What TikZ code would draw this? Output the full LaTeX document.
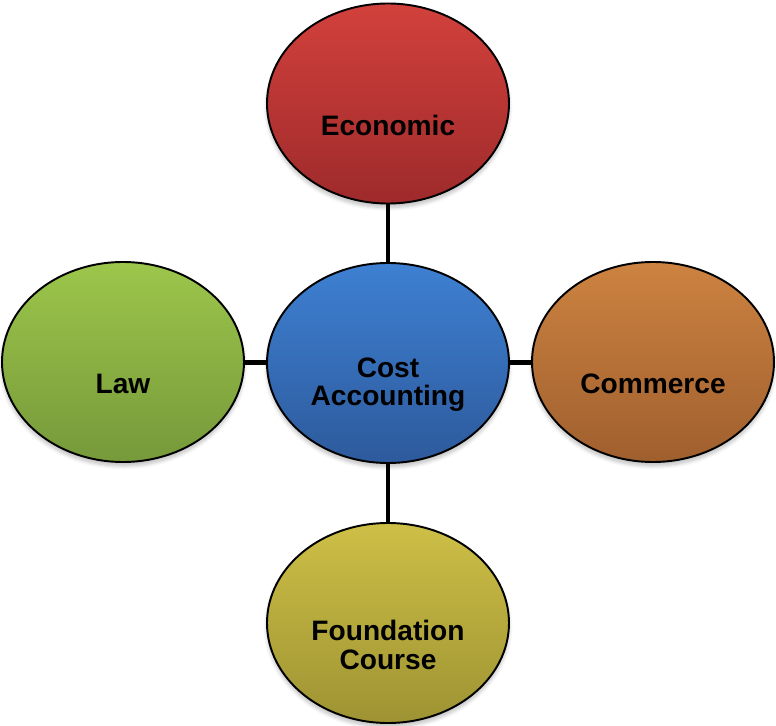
\documentclass[tikz,border=0pt]{standalone}
\usepackage{fontspec}
\setmainfont{Liberation Sans}
\usetikzlibrary{shapes.geometric,shadows.blur}

\definecolor{ecotop}{HTML}{D2413C}
\definecolor{ecobot}{HTML}{9E2A2B}
\definecolor{costtop}{HTML}{3E80D2}
\definecolor{costbot}{HTML}{2D5A9C}
\definecolor{lawtop}{HTML}{9CC64B}
\definecolor{lawbot}{HTML}{76993A}
\definecolor{comtop}{HTML}{CD8341}
\definecolor{combot}{HTML}{9F5F2E}
\definecolor{fndtop}{HTML}{CDBF46}
\definecolor{fndbot}{HTML}{9E9333}

\tikzset{
  topic/.style={ellipse, draw=black, line width=1.1pt, inner sep=0pt,
    minimum width=4.84cm, minimum height=4cm,
    blur shadow={shadow xshift=0pt, shadow yshift=-0.08cm, shadow opacity=25, shadow blur steps=6}},
  caption/.style={font=\bfseries\fontsize{16}{16}\selectfont, align=center},
  link/.style={line width=2.8pt, black}
}

\begin{document}
\begin{tikzpicture}
  \useasboundingbox (0,0) rectangle (15.52,-14.52);

  % the hub and its four topics
  \node[topic, top color=costtop, bottom color=costbot,
        label={[caption, yshift=-0.44cm]center:Cost\\Accounting}] (cost) at (7.76,-7.26) {};
  \node[topic, top color=ecotop, bottom color=ecobot,
        label={[caption, yshift=-0.44cm]center:Economic}] (eco) at (7.76,-2.07) {};
  \node[topic, top color=lawtop, bottom color=lawbot,
        label={[caption, yshift=-0.44cm]center:Law}] (law) at (2.46,-7.24) {};
  \node[topic, top color=comtop, bottom color=combot,
        label={[caption, yshift=-0.44cm]center:Commerce}] (com) at (13.06,-7.24) {};
  \node[topic, top color=fndtop, bottom color=fndbot,
        label={[caption, yshift=-0.44cm]center:Foundation\\Course}] (fnd) at (7.76,-12.46) {};

  % spokes
  \draw[link] (eco) -- (cost);
  \draw[link] (fnd) -- (cost);
  \draw[link] (law) -- (cost);
  \draw[link] (com) -- (cost);
\end{tikzpicture}
\end{document}
